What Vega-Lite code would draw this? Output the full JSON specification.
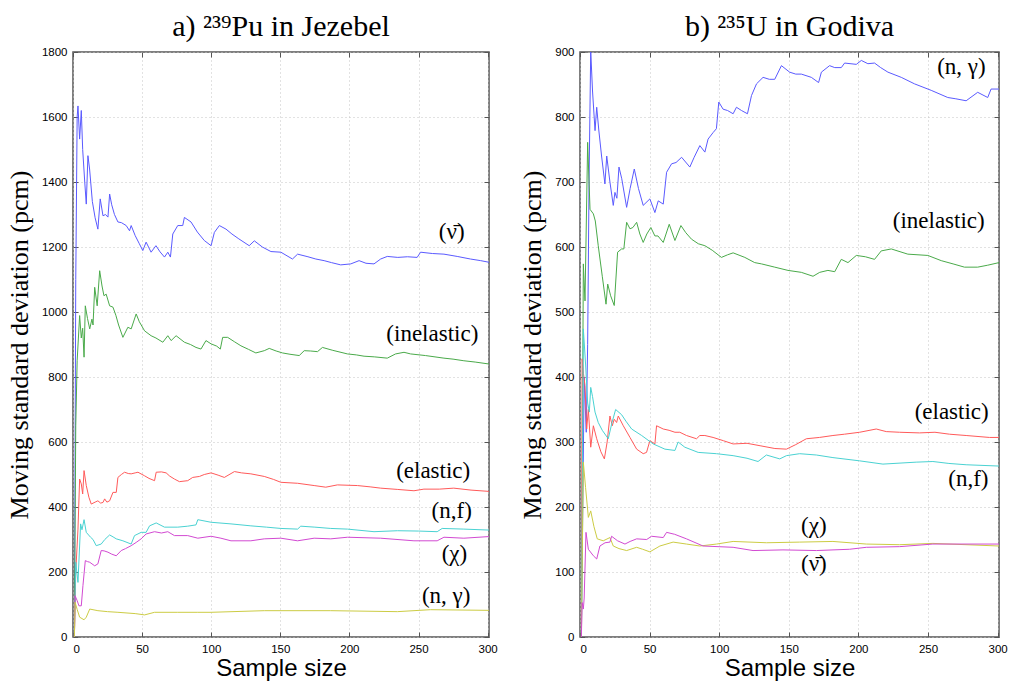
{
"$schema": "https://vega.github.io/schema/vega-lite/v6.json",
"background": "white",
"padding": {"left": 5, "top": 11, "right": 0, "bottom": 3},
"config": {
 "view": {"stroke": "#555555", "strokeWidth": 1.5},
 "axis": {"grid": true, "gridColor": "#c4c4c4", "gridDash": [1, 3], "gridWidth": 1, "domain": false,
  "labelFont": "Liberation Sans", "labelFontSize": 11.5, "labelColor": "#000000", "format": "d",
  "tickColor": "#555555", "tickSize": -5, "labelPadding": 11, "tickWidth": 1,
  "titleColor": "#000000", "titleFontWeight": "normal"},
 "text": {"font": "Liberation Serif", "fontSize": 23, "color": "#000000"}
},
"datasets": {
 "pu": [
  {"s":"nu","x":1,"y":0},{"s":"nu","x":2,"y":1100},{"s":"nu","x":3,"y":1600},{"s":"nu","x":3.6,"y":1634},{"s":"nu","x":4.8,"y":1532},{"s":"nu","x":6,"y":1620},{"s":"nu","x":7,"y":1500},{"s":"nu","x":8.5,"y":1400},{"s":"nu","x":9.6,"y":1332},{"s":"nu","x":10.8,"y":1481},{"s":"nu","x":12,"y":1440},{"s":"nu","x":14,"y":1340},{"s":"nu","x":16,"y":1290},{"s":"nu","x":18,"y":1255},{"s":"nu","x":19.7,"y":1348},{"s":"nu","x":21.7,"y":1296},{"s":"nu","x":23.5,"y":1300},{"s":"nu","x":25.3,"y":1292},{"s":"nu","x":26.5,"y":1363},{"s":"nu","x":28,"y":1330},{"s":"nu","x":30,"y":1300},{"s":"nu","x":32.5,"y":1277},{"s":"nu","x":35,"y":1275},{"s":"nu","x":38.5,"y":1266},{"s":"nu","x":40.9,"y":1250},{"s":"nu","x":42.1,"y":1266},{"s":"nu","x":45,"y":1235},{"s":"nu","x":48,"y":1210},{"s":"nu","x":50.5,"y":1189},{"s":"nu","x":52.9,"y":1215},{"s":"nu","x":56.5,"y":1184},{"s":"nu","x":60,"y":1204},{"s":"nu","x":63,"y":1185},{"s":"nu","x":66.2,"y":1169},{"s":"nu","x":68.6,"y":1184},{"s":"nu","x":70.5,"y":1169},{"s":"nu","x":72.2,"y":1240},{"s":"nu","x":75.8,"y":1266},{"s":"nu","x":79.4,"y":1266},{"s":"nu","x":80.6,"y":1291},{"s":"nu","x":85.4,"y":1277},{"s":"nu","x":90,"y":1246},{"s":"nu","x":95,"y":1220},{"s":"nu","x":99.9,"y":1204},{"s":"nu","x":102.3,"y":1245},{"s":"nu","x":105.9,"y":1266},{"s":"nu","x":110.7,"y":1255},{"s":"nu","x":115,"y":1240},{"s":"nu","x":120,"y":1225},{"s":"nu","x":127.5,"y":1204},{"s":"nu","x":131.2,"y":1219},{"s":"nu","x":137,"y":1200},{"s":"nu","x":143.2,"y":1186},{"s":"nu","x":150.4,"y":1184},{"s":"nu","x":158.8,"y":1163},{"s":"nu","x":162.5,"y":1178},{"s":"nu","x":170,"y":1170},{"s":"nu","x":175.7,"y":1163},{"s":"nu","x":181.7,"y":1158},{"s":"nu","x":187,"y":1152},{"s":"nu","x":193.7,"y":1145},{"s":"nu","x":201,"y":1148},{"s":"nu","x":207,"y":1158},{"s":"nu","x":212,"y":1150},{"s":"nu","x":217.8,"y":1148},{"s":"nu","x":222.6,"y":1163},{"s":"nu","x":227.4,"y":1171},{"s":"nu","x":235,"y":1168},{"s":"nu","x":242,"y":1170},{"s":"nu","x":249,"y":1168},{"s":"nu","x":251.5,"y":1184},{"s":"nu","x":260,"y":1180},{"s":"nu","x":268.4,"y":1178},{"s":"nu","x":278,"y":1171},{"s":"nu","x":287.6,"y":1163},{"s":"nu","x":295,"y":1158},{"s":"nu","x":301,"y":1153},
  {"s":"inel","x":1,"y":0},{"s":"inel","x":2,"y":650},{"s":"inel","x":3,"y":850},{"s":"inel","x":4.8,"y":989},{"s":"inel","x":6,"y":920},{"s":"inel","x":7,"y":950},{"s":"inel","x":8,"y":861},{"s":"inel","x":8.9,"y":1019},{"s":"inel","x":10.5,"y":980},{"s":"inel","x":12.1,"y":948},{"s":"inel","x":13.7,"y":978},{"s":"inel","x":14.5,"y":960},{"s":"inel","x":15.7,"y":1076},{"s":"inel","x":17.5,"y":1019},{"s":"inel","x":19.3,"y":1127},{"s":"inel","x":21,"y":1080},{"s":"inel","x":22.4,"y":1050},{"s":"inel","x":24,"y":1055},{"s":"inel","x":26.5,"y":1019},{"s":"inel","x":28.9,"y":1015},{"s":"inel","x":31,"y":990},{"s":"inel","x":33,"y":960},{"s":"inel","x":36.1,"y":922},{"s":"inel","x":39.7,"y":953},{"s":"inel","x":42.1,"y":948},{"s":"inel","x":45.7,"y":994},{"s":"inel","x":48,"y":970},{"s":"inel","x":51.8,"y":942},{"s":"inel","x":56.5,"y":927},{"s":"inel","x":60,"y":920},{"s":"inel","x":65,"y":907},{"s":"inel","x":68.6,"y":927},{"s":"inel","x":71,"y":912},{"s":"inel","x":74.6,"y":927},{"s":"inel","x":80.6,"y":907},{"s":"inel","x":85,"y":900},{"s":"inel","x":89,"y":891},{"s":"inel","x":92.6,"y":886},{"s":"inel","x":96.2,"y":912},{"s":"inel","x":99.9,"y":902},{"s":"inel","x":104,"y":895},{"s":"inel","x":106.6,"y":886},{"s":"inel","x":108.3,"y":922},{"s":"inel","x":111.9,"y":922},{"s":"inel","x":117,"y":908},{"s":"inel","x":121.5,"y":896},{"s":"inel","x":127,"y":885},{"s":"inel","x":132.3,"y":874},{"s":"inel","x":138.4,"y":881},{"s":"inel","x":142,"y":888},{"s":"inel","x":147,"y":880},{"s":"inel","x":151.6,"y":874},{"s":"inel","x":157,"y":870},{"s":"inel","x":163.7,"y":866},{"s":"inel","x":167.3,"y":881},{"s":"inel","x":172,"y":880},{"s":"inel","x":176.9,"y":878},{"s":"inel","x":180.5,"y":891},{"s":"inel","x":188,"y":882},{"s":"inel","x":198.6,"y":871},{"s":"inel","x":205,"y":868},{"s":"inel","x":210.6,"y":864},{"s":"inel","x":218,"y":862},{"s":"inel","x":227.4,"y":858},{"s":"inel","x":233.4,"y":871},{"s":"inel","x":239.5,"y":876},{"s":"inel","x":244.3,"y":871},{"s":"inel","x":255,"y":866},{"s":"inel","x":268.4,"y":858},{"s":"inel","x":275,"y":855},{"s":"inel","x":282.8,"y":850},{"s":"inel","x":291,"y":846},{"s":"inel","x":301,"y":840},
  {"s":"el","x":1,"y":0},{"s":"el","x":2,"y":200},{"s":"el","x":3.6,"y":332},{"s":"el","x":4.8,"y":486},{"s":"el","x":6,"y":471},{"s":"el","x":7,"y":440},{"s":"el","x":8,"y":512},{"s":"el","x":9.6,"y":466},{"s":"el","x":11.5,"y":430},{"s":"el","x":13.2,"y":409},{"s":"el","x":16,"y":415},{"s":"el","x":18,"y":419},{"s":"el","x":20,"y":412},{"s":"el","x":21.7,"y":414},{"s":"el","x":22.9,"y":425},{"s":"el","x":24.5,"y":415},{"s":"el","x":26.5,"y":419},{"s":"el","x":28.9,"y":445},{"s":"el","x":31.3,"y":445},{"s":"el","x":32.5,"y":491},{"s":"el","x":35,"y":500},{"s":"el","x":37.3,"y":507},{"s":"el","x":40,"y":503},{"s":"el","x":42.1,"y":502},{"s":"el","x":45,"y":505},{"s":"el","x":47,"y":507},{"s":"el","x":51.8,"y":496},{"s":"el","x":55,"y":488},{"s":"el","x":59,"y":481},{"s":"el","x":60.2,"y":507},{"s":"el","x":64,"y":508},{"s":"el","x":67.4,"y":505},{"s":"el","x":70,"y":495},{"s":"el","x":73.4,"y":486},{"s":"el","x":77,"y":478},{"s":"el","x":83,"y":481},{"s":"el","x":86.6,"y":491},{"s":"el","x":91.5,"y":494},{"s":"el","x":95,"y":500},{"s":"el","x":99.9,"y":505},{"s":"el","x":105,"y":498},{"s":"el","x":109.5,"y":491},{"s":"el","x":116.8,"y":509},{"s":"el","x":122,"y":505},{"s":"el","x":128.7,"y":502},{"s":"el","x":138.4,"y":494},{"s":"el","x":145,"y":485},{"s":"el","x":150.4,"y":476},{"s":"el","x":162.5,"y":473},{"s":"el","x":174.5,"y":466},{"s":"el","x":182.9,"y":461},{"s":"el","x":191.3,"y":468},{"s":"el","x":205.8,"y":466},{"s":"el","x":215,"y":462},{"s":"el","x":222.6,"y":458},{"s":"el","x":235,"y":454},{"s":"el","x":246.7,"y":450},{"s":"el","x":253.9,"y":455},{"s":"el","x":265,"y":455},{"s":"el","x":275.5,"y":458},{"s":"el","x":288,"y":452},{"s":"el","x":301,"y":448},
  {"s":"nf","x":1,"y":0},{"s":"nf","x":2,"y":230},{"s":"nf","x":3.6,"y":168},{"s":"nf","x":5.5,"y":348},{"s":"nf","x":6.5,"y":330},{"s":"nf","x":8,"y":361},{"s":"nf","x":9.6,"y":322},{"s":"nf","x":12.7,"y":307},{"s":"nf","x":14.5,"y":300},{"s":"nf","x":16.8,"y":281},{"s":"nf","x":20.4,"y":286},{"s":"nf","x":23,"y":300},{"s":"nf","x":26.5,"y":314},{"s":"nf","x":29,"y":308},{"s":"nf","x":31.3,"y":302},{"s":"nf","x":36.1,"y":296},{"s":"nf","x":42.1,"y":286},{"s":"nf","x":44.5,"y":312},{"s":"nf","x":49.3,"y":322},{"s":"nf","x":52.9,"y":322},{"s":"nf","x":55.4,"y":342},{"s":"nf","x":60.2,"y":351},{"s":"nf","x":66.2,"y":338},{"s":"nf","x":75.8,"y":338},{"s":"nf","x":83,"y":341},{"s":"nf","x":89,"y":345},{"s":"nf","x":90.3,"y":361},{"s":"nf","x":99.9,"y":353},{"s":"nf","x":114.3,"y":348},{"s":"nf","x":128.7,"y":342},{"s":"nf","x":140,"y":338},{"s":"nf","x":150.4,"y":334},{"s":"nf","x":162.5,"y":332},{"s":"nf","x":164.8,"y":341},{"s":"nf","x":175,"y":338},{"s":"nf","x":186.5,"y":334},{"s":"nf","x":198.6,"y":332},{"s":"nf","x":217.8,"y":324},{"s":"nf","x":234.7,"y":327},{"s":"nf","x":250,"y":326},{"s":"nf","x":263.5,"y":324},{"s":"nf","x":267.1,"y":334},{"s":"nf","x":282.8,"y":332},{"s":"nf","x":301,"y":329},
  {"s":"chi","x":1,"y":0},{"s":"chi","x":1.5,"y":127},{"s":"chi","x":3,"y":112},{"s":"chi","x":4.3,"y":96},{"s":"chi","x":6,"y":96},{"s":"chi","x":7.2,"y":158},{"s":"chi","x":8.9,"y":235},{"s":"chi","x":10.5,"y":232},{"s":"chi","x":12.1,"y":230},{"s":"chi","x":15.7,"y":219},{"s":"chi","x":18,"y":225},{"s":"chi","x":20.4,"y":266},{"s":"chi","x":22.5,"y":265},{"s":"chi","x":25.3,"y":261},{"s":"chi","x":28,"y":255},{"s":"chi","x":31.3,"y":250},{"s":"chi","x":34.9,"y":266},{"s":"chi","x":38,"y":272},{"s":"chi","x":42.1,"y":281},{"s":"chi","x":45.7,"y":291},{"s":"chi","x":49.3,"y":302},{"s":"chi","x":52.9,"y":317},{"s":"chi","x":59,"y":324},{"s":"chi","x":64,"y":320},{"s":"chi","x":68.6,"y":324},{"s":"chi","x":73.4,"y":312},{"s":"chi","x":83,"y":312},{"s":"chi","x":90.3,"y":304},{"s":"chi","x":99.9,"y":310},{"s":"chi","x":107,"y":304},{"s":"chi","x":114.3,"y":296},{"s":"chi","x":128.7,"y":296},{"s":"chi","x":138.4,"y":302},{"s":"chi","x":150.4,"y":304},{"s":"chi","x":162.5,"y":296},{"s":"chi","x":174.5,"y":304},{"s":"chi","x":186.5,"y":302},{"s":"chi","x":198.6,"y":307},{"s":"chi","x":222.6,"y":304},{"s":"chi","x":246.7,"y":296},{"s":"chi","x":263.5,"y":296},{"s":"chi","x":268.4,"y":307},{"s":"chi","x":282.8,"y":304},{"s":"chi","x":301,"y":309},
  {"s":"ng","x":1,"y":0},{"s":"ng","x":1.5,"y":107},{"s":"ng","x":3,"y":85},{"s":"ng","x":4.8,"y":61},{"s":"ng","x":8,"y":53},{"s":"ng","x":9.6,"y":61},{"s":"ng","x":12.1,"y":86},{"s":"ng","x":18,"y":81},{"s":"ng","x":25,"y":78},{"s":"ng","x":32.5,"y":76},{"s":"ng","x":45,"y":72},{"s":"ng","x":51.8,"y":68},{"s":"ng","x":59,"y":76},{"s":"ng","x":75.8,"y":76},{"s":"ng","x":90.3,"y":76},{"s":"ng","x":99.9,"y":76},{"s":"ng","x":138.4,"y":81},{"s":"ng","x":186.5,"y":81},{"s":"ng","x":234.7,"y":78},{"s":"ng","x":258.7,"y":84},{"s":"ng","x":301,"y":82}
 ],
 "u": [
  {"s":"ng","x":1,"y":0},{"s":"ng","x":2,"y":200},{"s":"ng","x":3,"y":400},{"s":"ng","x":4.5,"y":315},{"s":"ng","x":5.5,"y":450},{"s":"ng","x":6.5,"y":700},{"s":"ng","x":7.7,"y":902},{"s":"ng","x":9,"y":840},{"s":"ng","x":10.8,"y":779},{"s":"ng","x":12,"y":815},{"s":"ng","x":13.5,"y":780},{"s":"ng","x":15.5,"y":740},{"s":"ng","x":17.9,"y":697},{"s":"ng","x":19.2,"y":740},{"s":"ng","x":21.5,"y":700},{"s":"ng","x":23.9,"y":664},{"s":"ng","x":25.1,"y":684},{"s":"ng","x":26.5,"y":675},{"s":"ng","x":28,"y":723},{"s":"ng","x":30,"y":705},{"s":"ng","x":33.5,"y":661},{"s":"ng","x":36,"y":690},{"s":"ng","x":39,"y":720},{"s":"ng","x":42,"y":690},{"s":"ng","x":45.4,"y":664},{"s":"ng","x":50.2,"y":674},{"s":"ng","x":53.8,"y":653},{"s":"ng","x":56.2,"y":671},{"s":"ng","x":59.8,"y":666},{"s":"ng","x":62.2,"y":715},{"s":"ng","x":65.8,"y":728},{"s":"ng","x":69,"y":730},{"s":"ng","x":73,"y":738},{"s":"ng","x":78.9,"y":723},{"s":"ng","x":82,"y":738},{"s":"ng","x":86.1,"y":756},{"s":"ng","x":89.7,"y":746},{"s":"ng","x":92,"y":766},{"s":"ng","x":95.6,"y":776},{"s":"ng","x":98,"y":782},{"s":"ng","x":99.7,"y":823},{"s":"ng","x":102.8,"y":812},{"s":"ng","x":106,"y":810},{"s":"ng","x":110,"y":805},{"s":"ng","x":112.4,"y":815},{"s":"ng","x":116,"y":810},{"s":"ng","x":120.3,"y":805},{"s":"ng","x":123.2,"y":833},{"s":"ng","x":126.8,"y":851},{"s":"ng","x":131.5,"y":861},{"s":"ng","x":136,"y":858},{"s":"ng","x":139.9,"y":858},{"s":"ng","x":144.7,"y":879},{"s":"ng","x":150.6,"y":869},{"s":"ng","x":155,"y":866},{"s":"ng","x":159,"y":866},{"s":"ng","x":166.2,"y":861},{"s":"ng","x":171.4,"y":853},{"s":"ng","x":173.4,"y":869},{"s":"ng","x":179.3,"y":879},{"s":"ng","x":183,"y":876},{"s":"ng","x":187.7,"y":876},{"s":"ng","x":190.1,"y":883},{"s":"ng","x":198.5,"y":881},{"s":"ng","x":202.1,"y":887},{"s":"ng","x":206.8,"y":882},{"s":"ng","x":211.6,"y":883},{"s":"ng","x":216,"y":876},{"s":"ng","x":221.2,"y":869},{"s":"ng","x":230.8,"y":861},{"s":"ng","x":240.3,"y":851},{"s":"ng","x":252.3,"y":841},{"s":"ng","x":264.2,"y":830},{"s":"ng","x":270,"y":828},{"s":"ng","x":277.4,"y":825},{"s":"ng","x":285.7,"y":838},{"s":"ng","x":292.9,"y":830},{"s":"ng","x":295.3,"y":843},{"s":"ng","x":301,"y":843},
  {"s":"inel","x":1,"y":0},{"s":"inel","x":2.4,"y":574},{"s":"inel","x":3.6,"y":517},{"s":"inel","x":5.5,"y":761},{"s":"inel","x":7.2,"y":658},{"s":"inel","x":9.6,"y":651},{"s":"inel","x":11,"y":640},{"s":"inel","x":13.1,"y":602},{"s":"inel","x":16,"y":555},{"s":"inel","x":18.7,"y":512},{"s":"inel","x":19.9,"y":543},{"s":"inel","x":22,"y":525},{"s":"inel","x":24.6,"y":510},{"s":"inel","x":27,"y":592},{"s":"inel","x":29.9,"y":597},{"s":"inel","x":31.5,"y":597},{"s":"inel","x":33.5,"y":638},{"s":"inel","x":35.9,"y":628},{"s":"inel","x":38,"y":630},{"s":"inel","x":40.7,"y":638},{"s":"inel","x":43,"y":620},{"s":"inel","x":45.4,"y":607},{"s":"inel","x":48,"y":620},{"s":"inel","x":50.9,"y":630},{"s":"inel","x":53.8,"y":617},{"s":"inel","x":56,"y":617},{"s":"inel","x":59.8,"y":607},{"s":"inel","x":64.1,"y":635},{"s":"inel","x":68.2,"y":610},{"s":"inel","x":72.5,"y":633},{"s":"inel","x":76,"y":622},{"s":"inel","x":80.1,"y":612},{"s":"inel","x":85,"y":605},{"s":"inel","x":89.7,"y":602},{"s":"inel","x":95,"y":595},{"s":"inel","x":101.6,"y":584},{"s":"inel","x":106,"y":588},{"s":"inel","x":110,"y":591},{"s":"inel","x":118.4,"y":584},{"s":"inel","x":125.5,"y":576},{"s":"inel","x":130.4,"y":574},{"s":"inel","x":139.9,"y":569},{"s":"inel","x":149.4,"y":564},{"s":"inel","x":159,"y":561},{"s":"inel","x":167.4,"y":555},{"s":"inel","x":172.2,"y":561},{"s":"inel","x":178.1,"y":564},{"s":"inel","x":183,"y":562},{"s":"inel","x":187.7,"y":581},{"s":"inel","x":192.5,"y":576},{"s":"inel","x":198.5,"y":587},{"s":"inel","x":205,"y":585},{"s":"inel","x":211.6,"y":581},{"s":"inel","x":216.4,"y":594},{"s":"inel","x":223.6,"y":597},{"s":"inel","x":235.5,"y":589},{"s":"inel","x":249.9,"y":587},{"s":"inel","x":259.5,"y":579},{"s":"inel","x":268,"y":574},{"s":"inel","x":276.2,"y":569},{"s":"inel","x":285.7,"y":569},{"s":"inel","x":292.9,"y":572},{"s":"inel","x":301,"y":576},
  {"s":"el","x":1,"y":0},{"s":"el","x":1.5,"y":428},{"s":"el","x":2.5,"y":405},{"s":"el","x":3.6,"y":387},{"s":"el","x":4.8,"y":320},{"s":"el","x":6,"y":350},{"s":"el","x":7.7,"y":292},{"s":"el","x":9.6,"y":325},{"s":"el","x":12,"y":305},{"s":"el","x":15,"y":285},{"s":"el","x":17.5,"y":274},{"s":"el","x":19.5,"y":300},{"s":"el","x":21.5,"y":340},{"s":"el","x":23.2,"y":325},{"s":"el","x":24.6,"y":335},{"s":"el","x":26.3,"y":330},{"s":"el","x":27.5,"y":340},{"s":"el","x":31.1,"y":325},{"s":"el","x":35.9,"y":307},{"s":"el","x":40.7,"y":289},{"s":"el","x":45.4,"y":282},{"s":"el","x":47.8,"y":284},{"s":"el","x":50.2,"y":302},{"s":"el","x":53.8,"y":297},{"s":"el","x":55,"y":325},{"s":"el","x":59.8,"y":320},{"s":"el","x":64,"y":318},{"s":"el","x":68.2,"y":315},{"s":"el","x":71.7,"y":315},{"s":"el","x":76.5,"y":310},{"s":"el","x":83.7,"y":305},{"s":"el","x":86.1,"y":310},{"s":"el","x":89.7,"y":310},{"s":"el","x":95.6,"y":307},{"s":"el","x":103,"y":302},{"s":"el","x":110,"y":297},{"s":"el","x":120,"y":298},{"s":"el","x":130,"y":294},{"s":"el","x":140,"y":290},{"s":"el","x":148.3,"y":289},{"s":"el","x":155,"y":296},{"s":"el","x":162.6,"y":305},{"s":"el","x":172,"y":307},{"s":"el","x":181.7,"y":310},{"s":"el","x":190,"y":312},{"s":"el","x":200.9,"y":315},{"s":"el","x":212.8,"y":320},{"s":"el","x":220,"y":316},{"s":"el","x":229.6,"y":315},{"s":"el","x":243.9,"y":314},{"s":"el","x":255,"y":315},{"s":"el","x":265.4,"y":312},{"s":"el","x":277.4,"y":310},{"s":"el","x":294.1,"y":307},{"s":"el","x":301,"y":307},
  {"s":"nf","x":1,"y":0},{"s":"nf","x":2.4,"y":474},{"s":"nf","x":4,"y":420},{"s":"nf","x":5.5,"y":360},{"s":"nf","x":6.7,"y":346},{"s":"nf","x":7.7,"y":384},{"s":"nf","x":9,"y":370},{"s":"nf","x":10.8,"y":346},{"s":"nf","x":13.1,"y":330},{"s":"nf","x":16,"y":318},{"s":"nf","x":20.3,"y":305},{"s":"nf","x":23,"y":330},{"s":"nf","x":25.6,"y":350},{"s":"nf","x":29.9,"y":342},{"s":"nf","x":33,"y":332},{"s":"nf","x":37.1,"y":320},{"s":"nf","x":44.3,"y":310},{"s":"nf","x":52.6,"y":297},{"s":"nf","x":61,"y":289},{"s":"nf","x":68.2,"y":287},{"s":"nf","x":70.5,"y":300},{"s":"nf","x":75.3,"y":292},{"s":"nf","x":84.9,"y":284},{"s":"nf","x":98.1,"y":282},{"s":"nf","x":110,"y":279},{"s":"nf","x":120,"y":275},{"s":"nf","x":127.9,"y":270},{"s":"nf","x":133.9,"y":280},{"s":"nf","x":143.5,"y":274},{"s":"nf","x":148.3,"y":279},{"s":"nf","x":157.8,"y":282},{"s":"nf","x":169.8,"y":280},{"s":"nf","x":181.7,"y":276},{"s":"nf","x":200.9,"y":271},{"s":"nf","x":217.6,"y":266},{"s":"nf","x":241.5,"y":269},{"s":"nf","x":253.5,"y":270},{"s":"nf","x":265,"y":267},{"s":"nf","x":277.4,"y":265},{"s":"nf","x":301,"y":263},
  {"s":"chi","x":1,"y":0},{"s":"chi","x":2.4,"y":269},{"s":"chi","x":4,"y":230},{"s":"chi","x":6,"y":184},{"s":"chi","x":7.7,"y":194},{"s":"chi","x":10,"y":170},{"s":"chi","x":12.4,"y":151},{"s":"chi","x":16.7,"y":148},{"s":"chi","x":21.5,"y":153},{"s":"chi","x":23.9,"y":140},{"s":"chi","x":28,"y":136},{"s":"chi","x":33.5,"y":133},{"s":"chi","x":40.7,"y":138},{"s":"chi","x":45,"y":135},{"s":"chi","x":50.2,"y":131},{"s":"chi","x":57.4,"y":140},{"s":"chi","x":66.9,"y":146},{"s":"chi","x":76.5,"y":143},{"s":"chi","x":86.1,"y":140},{"s":"chi","x":98.1,"y":143},{"s":"chi","x":110,"y":147},{"s":"chi","x":133.9,"y":145},{"s":"chi","x":157.8,"y":146},{"s":"chi","x":181.7,"y":147},{"s":"chi","x":205.7,"y":143},{"s":"chi","x":229.6,"y":142},{"s":"chi","x":253.5,"y":144},{"s":"chi","x":301,"y":140},
  {"s":"nu","x":1,"y":0},{"s":"nu","x":1.5,"y":53},{"s":"nu","x":2.4,"y":43},{"s":"nu","x":3,"y":60},{"s":"nu","x":4.3,"y":161},{"s":"nu","x":6,"y":135},{"s":"nu","x":9.6,"y":125},{"s":"nu","x":12,"y":120},{"s":"nu","x":14.3,"y":140},{"s":"nu","x":18,"y":145},{"s":"nu","x":21.5,"y":146},{"s":"nu","x":22.7,"y":155},{"s":"nu","x":27,"y":148},{"s":"nu","x":32.3,"y":143},{"s":"nu","x":36,"y":147},{"s":"nu","x":40.7,"y":151},{"s":"nu","x":47.9,"y":150},{"s":"nu","x":51.4,"y":155},{"s":"nu","x":59.8,"y":153},{"s":"nu","x":62.2,"y":161},{"s":"nu","x":68,"y":158},{"s":"nu","x":76.5,"y":151},{"s":"nu","x":88.4,"y":140},{"s":"nu","x":110,"y":138},{"s":"nu","x":124.3,"y":133},{"s":"nu","x":145.8,"y":134},{"s":"nu","x":169.8,"y":133},{"s":"nu","x":193.7,"y":135},{"s":"nu","x":205.7,"y":138},{"s":"nu","x":229.6,"y":139},{"s":"nu","x":253.5,"y":143},{"s":"nu","x":301,"y":143}
 ],
 "pu_lab": [
  {"t":"(ν̄)","x":274,"y":1246},{"t":"(inelastic)","x":260,"y":932},{"t":"(elastic)","x":260.6,"y":511},{"t":"(n,f)","x":274,"y":388},{"t":"(χ)","x":276,"y":255},{"t":"(n, γ)","x":270,"y":126}
 ],
 "u_lab": [
  {"t":"(n, γ)","x":274,"y":877},{"t":"(inelastic)","x":257.7,"y":640},{"t":"(elastic)","x":267,"y":346},{"t":"(n,f)","x":279,"y":243},{"t":"(χ)","x":168,"y":171},{"t":"(ν̄)","x":168,"y":112}
 ]
},
"resolve": {"scale": {"color": "independent"}},
"spacing": 21,
"hconcat": [
 {
  "width": 416, "height": 585,
  "title": {"text": "a) ²³⁹Pu in Jezebel", "font": "Liberation Serif", "fontSize": 30, "fontWeight": "normal", "color": "#000000", "offset": 4},
  "layer": [
   {"data": {"name": "pu"}, "mark": {"type": "line", "strokeWidth": 1, "clip": true},
    "encoding": {
     "x": {"field": "x", "type": "quantitative", "scale": {"domain": [0, 301], "nice": false},
      "axis": {"values": [0, 50, 100, 150, 200, 250, 300], "title": "Sample size", "titleFont": "Liberation Sans", "titleFontSize": 24, "titlePadding": 2}},
     "y": {"field": "y", "type": "quantitative", "scale": {"domain": [0, 1800], "nice": false},
      "axis": {"values": [0, 200, 400, 600, 800, 1000, 1200, 1400, 1600, 1800], "title": "Moving standard deviation (pcm)", "titleFont": "Liberation Serif", "titleFontSize": 26, "titlePadding": 9}},
     "color": {"field": "s", "type": "nominal", "legend": null,
      "scale": {"domain": ["nu", "inel", "el", "nf", "chi", "ng"], "range": ["#5a5aff", "#4aaa4a", "#ff5a5a", "#4ad2d2", "#d24ad2", "#cccc44"]}}
    }},
   {"data": {"name": "pu_lab"}, "mark": {"type": "text"},
    "encoding": {
     "x": {"field": "x", "type": "quantitative", "scale": {"domain": [0, 301], "nice": false},
      "axis": {"orient": "top", "values": [0, 50, 100, 150, 200, 250, 300], "labels": false, "title": null, "grid": false}},
     "y": {"field": "y", "type": "quantitative", "scale": {"domain": [0, 1800], "nice": false},
      "axis": {"orient": "right", "values": [0, 200, 400, 600, 800, 1000, 1200, 1400, 1600, 1800], "labels": false, "title": null, "grid": false}},
     "text": {"field": "t"}
    }}
  ],
  "resolve": {"axis": {"x": "independent", "y": "independent"}}
 },
 {
  "width": 419, "height": 585,
  "title": {"text": "b) ²³⁵U in Godiva", "font": "Liberation Serif", "fontSize": 30, "fontWeight": "normal", "color": "#000000", "offset": 4},
  "layer": [
   {"data": {"name": "u"}, "mark": {"type": "line", "strokeWidth": 1, "clip": true},
    "encoding": {
     "x": {"field": "x", "type": "quantitative", "scale": {"domain": [0, 301], "nice": false},
      "axis": {"values": [0, 50, 100, 150, 200, 250, 300], "title": "Sample size", "titleFont": "Liberation Sans", "titleFontSize": 24, "titlePadding": 2}},
     "y": {"field": "y", "type": "quantitative", "scale": {"domain": [0, 900], "nice": false},
      "axis": {"values": [0, 100, 200, 300, 400, 500, 600, 700, 800, 900], "title": "Moving standard deviation (pcm)", "titleFont": "Liberation Serif", "titleFontSize": 26, "titlePadding": 9}},
     "color": {"field": "s", "type": "nominal", "legend": null,
      "scale": {"domain": ["ng", "inel", "el", "nf", "chi", "nu"], "range": ["#5a5aff", "#4aaa4a", "#ff5a5a", "#4ad2d2", "#cccc44", "#d24ad2"]}}
    }},
   {"data": {"name": "u_lab"}, "mark": {"type": "text"},
    "encoding": {
     "x": {"field": "x", "type": "quantitative", "scale": {"domain": [0, 301], "nice": false},
      "axis": {"orient": "top", "values": [0, 50, 100, 150, 200, 250, 300], "labels": false, "title": null, "grid": false}},
     "y": {"field": "y", "type": "quantitative", "scale": {"domain": [0, 900], "nice": false},
      "axis": {"orient": "right", "values": [0, 100, 200, 300, 400, 500, 600, 700, 800, 900], "labels": false, "title": null, "grid": false}},
     "text": {"field": "t"}
    }}
  ],
  "resolve": {"axis": {"x": "independent", "y": "independent"}}
 }
]
}
